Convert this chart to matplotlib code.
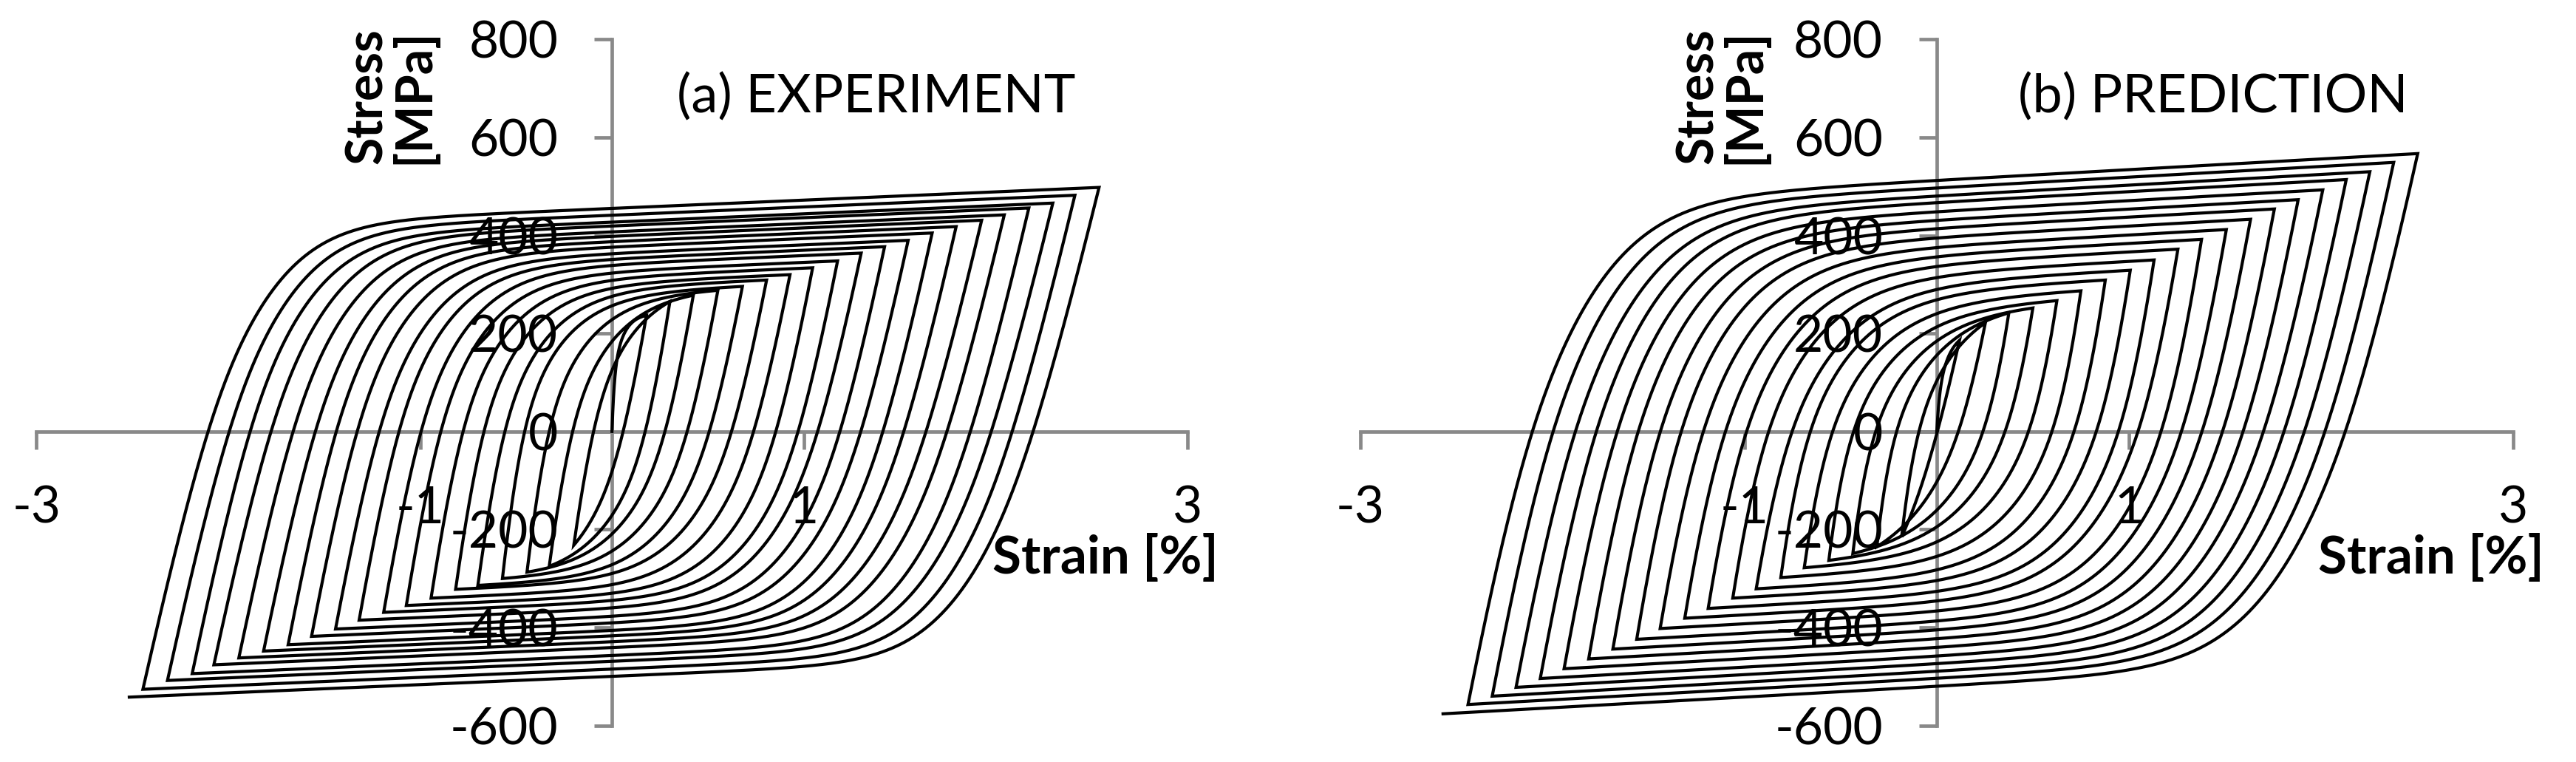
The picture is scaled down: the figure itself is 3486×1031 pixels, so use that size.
import numpy as np
import matplotlib
matplotlib.use("Agg")
import matplotlib.pyplot as plt

plt.rcParams["font.family"] = ["Lato", "DejaVu Sans"]
plt.rcParams["axes.unicode_minus"] = False

# ---------------- data ----------------
# (a) EXPERIMENT : peaks of the successive cycles (strain %, stress MPa)
exp_peak_tension_strain = [0.180, 0.302, 0.424, 0.552, 0.680, 0.806, 0.928, 1.046, 1.176, 1.299,
                           1.421, 1.544, 1.669, 1.794, 1.927, 2.045, 2.173, 2.298, 2.413, 2.539]
exp_peak_tension_stress = [237, 265, 278, 288, 296, 309, 320, 334, 348, 364,
                           377, 390, 405, 418, 431, 442, 456, 466, 482, 498]
exp_peak_compression_strain = [-0.199, -0.327, -0.443, -0.571, -0.699, -0.815, -0.943, -1.072, -1.190, -1.318,
                               -1.441, -1.566, -1.688, -1.816, -1.945, -2.075, -2.188, -2.317, -2.445, -2.516]
exp_peak_compression_stress = [-232, -275, -287, -300, -314, -322, -340, -355, -369, -385,
                               -403, -418, -435, -448, -462, -476, -494, -508, -526, -542]
# strain where the unloading branch from each tension peak crosses zero stress
exp_zero_after_tension = [0.058, 0.173, 0.276, 0.392, 0.507, 0.623, 0.738, 0.854, 0.970, 1.072,
                          1.188, 1.297, 1.412, 1.521, 1.637, 1.746, 1.868, 1.977, 2.086, 2.195]
# strain where the reloading branch from each compression peak crosses zero stress
exp_zero_after_compression = [-0.096, -0.205, -0.327, -0.455, -0.558, -0.667, -0.776, -0.892, -0.995, -1.110,
                              -1.213, -1.328, -1.437, -1.546, -1.662, -1.777, -1.886, -1.995, -2.105]
exp_initial_point = (0.071, 217)

# (b) PREDICTION
pred_peak_tension_strain = [0.118, 0.253, 0.375, 0.500, 0.625, 0.750, 0.877, 1.007, 1.131, 1.255,
                            1.378, 1.507, 1.633, 1.757, 1.881, 2.009, 2.131, 2.254, 2.378, 2.503]
pred_peak_tension_stress = [186, 222, 242, 252, 267, 287, 309, 329, 350, 372,
                            392, 412, 433, 454, 473, 493, 514, 530, 549, 567]
pred_peak_compression_strain = [-0.183, -0.312, -0.437, -0.562, -0.690, -0.812, -0.940, -1.062, -1.190, -1.312,
                                -1.440, -1.562, -1.686, -1.812, -1.940, -2.064, -2.190, -2.314, -2.440, -2.570]
pred_peak_compression_stress = [-215, -235, -249, -263, -278, -298, -321, -340, -361, -381,
                                -402, -424, -444, -464, -484, -504, -522, -540, -557, -576]
pred_zero_after_tension = [0.003, 0.112, 0.240, 0.355, 0.477, 0.599, 0.714, 0.830, 0.945, 1.047,
                           1.167, 1.273, 1.380, 1.487, 1.594, 1.700, 1.807, 1.913, 2.020, 2.126]
pred_zero_after_compression = [-0.093, -0.209, -0.318, -0.433, -0.542, -0.658, -0.753, -0.875, -0.990, -1.100,
                               -1.215, -1.330, -1.439, -1.554, -1.663, -1.772, -1.881, -1.997, -2.105]
pred_initial_point = (0.047, 141)

# branch-shape settings estimated from the loops: plateau slope [MPa/%],
# fast / slow knee rates [1/%], share of the fast part
exp_shape = dict(h=17.0, b1=25.0, b2=5.0, phi=0.45)
pred_shape = dict(h=22.0, b1=20.0, b2=4.0, phi=0.35)

x_ticks = [-3, -1, 1, 3]
y_ticks = [-600, -400, -200, 0, 200, 400, 600, 800]
titles = ["(a) EXPERIMENT", "(b) PREDICTION"]
x_title = "Strain [%]"
y_title = "Stress\n[MPa]"


def _g(p, b1, b2, phi):
    return phi * (1 - np.exp(-b1 * p)) + (1 - phi) * (1 - np.exp(-b2 * p))


def _scale(e_mod, dsig, deps, h, b1, b2, phi):
    p_end = deps - dsig / e_mod
    if p_end <= 1e-9:
        return None, None
    num = dsig - h * p_end
    if num <= 0:
        return None, None
    return num / _g(p_end, b1, b2, phi), p_end


def _p_at(w, s, h, b1, b2, phi, pmax):
    lo, hi = 0.0, pmax
    for _ in range(70):
        mid = 0.5 * (lo + hi)
        if h * mid + s * _g(mid, b1, b2, phi) < w:
            lo = mid
        else:
            hi = mid
    return 0.5 * (lo + hi)


def branch(ea, sa, eb, sb, ev, sv, h, b1, b2, phi, npts=900):
    """Smooth branch from peak A to peak B through the read point V."""
    sign = 1.0 if sb > sa else -1.0
    dsig = abs(sb - sa)
    deps = abs(eb - ea)
    wv = abs(sv - sa)
    uv = abs(ev - ea)

    def resid(e_mod):
        s, p_end = _scale(e_mod, dsig, deps, h, b1, b2, phi)
        if s is None:
            return None
        return wv / e_mod + _p_at(wv, s, h, b1, b2, phi, p_end) - uv

    lo = dsig / deps * 1.002
    hi = 60000.0
    while resid(lo) is None:
        lo *= 1.05
    rl, rh = resid(lo), resid(hi)
    if rh is not None and rh > 0:
        e_mod = hi
    elif rl < 0:
        e_mod = lo
    else:
        for _ in range(70):
            mid = np.sqrt(lo * hi)
            rm = resid(mid)
            if rm is None or rm > 0:
                lo = mid
            else:
                hi = mid
        e_mod = np.sqrt(lo * hi)
    s, p_end = _scale(e_mod, dsig, deps, h, b1, b2, phi)
    t = np.linspace(0, 1, npts)
    p = p_end * t ** 2
    w = h * p + s * _g(p, b1, b2, phi)
    u = w / e_mod + p
    u = u * deps / u[-1]
    w = w * dsig / w[-1]
    return ea + sign * u, sa + sign * w


def path(te, ts, ce, cs, zt, zc, init, shape):
    xs, ys = [], []
    mono = dict(shape)
    mono["b1"] *= 4
    mono["b2"] *= 4
    x, y = branch(0.0, 0.0, te[0], ts[0], init[0], init[1], **mono)
    xs.append(x); ys.append(y)
    for i in range(len(te)):
        x, y = branch(te[i], ts[i], ce[i], cs[i], zt[i], 0.0, **shape)
        xs.append(x[1:]); ys.append(y[1:])
        if i < len(te) - 1:
            x, y = branch(ce[i], cs[i], te[i + 1], ts[i + 1], zc[i], 0.0, **shape)
            xs.append(x[1:]); ys.append(y[1:])
    return np.concatenate(xs), np.concatenate(ys)


W, H = 3487, 1031
fig = plt.figure(figsize=(W / 100, H / 100), dpi=100)
fig.patch.set_facecolor("white")

y_top_px, y_bot_px = 53.3, 981.7
axes_px = [(49.3, 1607.0), (1841.0, 3401.0)]

datasets = [
    (exp_peak_tension_strain, exp_peak_tension_stress, exp_peak_compression_strain,
     exp_peak_compression_stress, exp_zero_after_tension, exp_zero_after_compression,
     exp_initial_point, exp_shape),
    (pred_peak_tension_strain, pred_peak_tension_stress, pred_peak_compression_strain,
     pred_peak_compression_stress, pred_zero_after_tension, pred_zero_after_compression,
     pred_initial_point, pred_shape),
]
title_x = [0.338, 0.423]
ytitle_x = [-1.152, -1.118]
axis_grey = "#898989"

for k_ax, ((x0, x1), data) in enumerate(zip(axes_px, datasets)):
    ax = fig.add_axes([x0 / W, 1 - y_bot_px / H, (x1 - x0) / W, (y_bot_px - y_top_px) / H])
    ax.set_xlim(-3, 3)
    ax.set_ylim(-600, 800)
    ax.patch.set_alpha(0)
    for sp in ["top", "right"]:
        ax.spines[sp].set_visible(False)
    ax.spines["left"].set_position(("data", 0))
    ax.spines["bottom"].set_position(("data", 0))
    for sp in ["left", "bottom"]:
        ax.spines[sp].set_color(axis_grey)
        ax.spines[sp].set_linewidth(3.4)
        ax.spines[sp].set_zorder(1)
    ax.set_xticks(x_ticks)
    ax.set_yticks(y_ticks)
    ax.set_xticklabels([str(v) for v in x_ticks])
    ax.set_yticklabels([str(v) for v in y_ticks])
    ax.tick_params(axis="both", direction="out", length=17.5, width=3.4, color=axis_grey,
                   labelsize=50, labelcolor="black", pad=35)

    te, ts, ce, cs, zt, zc, init, shape = data
    xx, yy = path(te, ts, ce, cs, zt, zc, init, shape)
    ax.plot(xx, yy, color="black", lw=3.0, solid_joinstyle="miter", zorder=3, clip_on=False)

    ax.text(title_x[k_ax], 650, titles[k_ax], fontsize=52, ha="left", va="baseline")
    ax.text(3.16, -290, x_title, fontsize=51, fontweight="bold", ha="right", va="baseline")
    ax.text(ytitle_x[k_ax], 684, y_title, fontsize=49, fontweight="bold", rotation=90,
            ha="center", va="center", multialignment="center", linespacing=1.0)

fig.savefig("out.png", dpi=100, facecolor="white")
